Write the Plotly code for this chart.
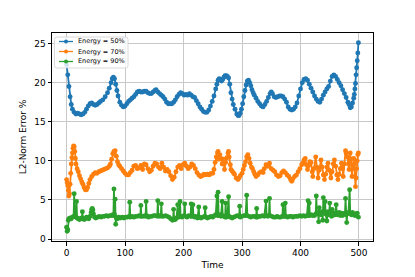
import plotly.graph_objects as go

# ---------------- data ----------------
series_names = ["Energy = 50%", "Energy = 70%", "Energy = 90%"]
series_colors = ["#1f77b4", "#ff7f0e", "#2ca02c"]

t_50 = [0, 2, 4, 6, 8, 10, 13, 16, 19, 22, 25, 28, 31, 34, 37, 40, 43, 46, 49, 52, 55, 58, 62, 66, 70, 73, 76, 78, 80, 82, 84, 86, 88, 91, 94, 97,
        100, 103, 106, 109, 112, 115, 118, 121, 124, 127, 130, 133, 136, 139, 142, 145, 148, 151, 153, 156, 159, 162, 165, 168, 171, 174, 177,
        180, 183, 186, 189, 192, 195, 198, 201, 204, 207, 210, 213, 216, 219, 222, 225, 228, 231, 234, 237, 240, 243, 246, 249, 252, 255, 257,
        259, 261, 263, 265, 267, 269, 271, 273, 275, 277, 279, 281, 283, 285, 288, 291, 293, 295, 297, 299, 301, 303, 305, 307, 309, 311, 313,
        315, 317, 319, 321, 324, 327, 330, 333, 336, 339, 342, 345, 348, 350, 352, 355, 358, 361, 364, 367, 370, 373, 376, 379, 382, 385, 388,
        391, 394, 397, 400, 403, 406, 409, 412, 415, 418, 421, 424, 427, 430, 433, 436, 439, 442, 445, 448, 451, 454, 457, 460, 463, 466, 469,
        472, 475, 478, 481, 483, 485, 487, 489, 491, 492, 493, 494, 495, 496, 497, 498, 499]
v_50 = [22.3, 21.0, 19.5, 18.2, 17.2, 16.6, 16.2, 16.0, 16.1, 16.0, 15.9, 16.0, 16.2, 16.6, 17.0, 17.3, 17.4, 17.2, 17.1, 17.2, 17.4, 17.6, 17.8,
        18.2, 18.7, 19.3, 20.0, 20.5, 20.7, 20.5, 19.8, 19.0, 18.3, 17.5, 17.1, 16.9,
        17.0, 17.3, 17.6, 17.8, 18.0, 18.2, 18.5, 18.8, 18.9, 18.8, 18.8, 18.9, 18.9, 18.7, 18.6, 18.6, 18.8, 19.0, 19.1, 18.8, 18.6, 18.4, 18.2,
        17.9, 17.5, 17.3, 17.3, 17.3, 17.5, 17.8, 18.2, 18.5, 18.7, 18.6, 18.4, 18.5, 18.4, 18.6, 18.4, 18.2, 18.1, 17.7, 17.3, 16.9, 16.6, 16.3,
        16.2, 16.2, 16.5, 17.0, 17.6, 18.3, 19.2, 19.8, 20.3, 20.5, 20.4, 20.2, 20.4, 20.7, 20.9, 20.9, 20.8, 20.6, 19.8, 18.7, 17.9, 17.2, 16.6,
        16.0, 15.8, 15.8, 16.1, 16.6, 17.3, 18.2, 19.0, 19.7, 20.2, 20.3, 20.0, 19.6, 19.1, 18.7, 18.4, 18.0, 17.6, 17.3, 17.0, 16.9, 17.2, 17.6,
        18.1, 18.6, 18.8, 18.6, 18.2, 18.1, 18.2, 18.3, 18.3, 18.2, 17.9, 17.5, 16.9, 16.6, 16.5, 16.6, 16.9, 17.4, 18.3, 19.2, 20.0, 20.4, 20.5,
        20.3, 19.8, 19.3, 18.8, 18.3, 17.9, 17.6, 17.5, 17.9, 18.4, 18.8, 19.2, 19.5, 20.2, 20.8, 21.0, 20.8, 20.4, 20.0, 19.6, 19.1, 18.6, 18.1,
        17.5, 17.2, 16.8, 16.9, 17.4, 18.0, 18.5, 19.2, 19.9, 21.0, 21.9, 22.8, 23.8, 25.1]

t_70 = [0, 1, 2, 3, 4, 5, 6, 7, 8, 9, 10, 11, 12, 13, 14, 15, 16, 18, 20, 22, 24, 26, 28, 30, 32, 34, 36, 38, 40, 43, 46, 49, 52, 55, 58, 61,
        64, 67, 70, 73, 75, 77, 79, 81, 83, 85, 87, 89, 91, 94, 97, 100, 103, 106, 109, 112, 115, 118, 121, 124, 127, 130, 133, 136, 139, 142,
        145, 148, 151, 154, 157, 160, 163, 166, 169, 172, 175, 178, 181, 184, 187, 190, 193, 196, 199, 202, 205, 208, 211, 214, 217, 220, 223,
        226, 229, 232, 235, 238, 241, 244, 247, 250, 252, 254, 256, 258, 259, 260, 262, 264, 266, 268, 270, 272, 274, 276, 277, 278, 280, 281,
        283, 285, 287, 290, 293, 295, 297, 300, 302, 304, 306, 308, 310, 312, 314, 316, 318, 320, 322, 324, 327, 330, 333, 336, 338, 341, 344,
        347, 350, 353, 356, 359, 362, 365, 368, 371, 374, 377, 380, 383, 385, 387, 390, 393, 396, 399, 402, 404, 406, 408, 410, 412, 414, 416,
        418, 420, 421, 423, 426, 428, 430, 432, 435, 437, 439, 441, 443, 445, 447, 449, 452, 454, 456, 458, 460, 462, 464, 466, 468, 470, 472,
        473, 475, 477, 478, 480, 482, 483, 484, 485, 486, 488, 489, 491, 492, 493, 494, 495, 496, 497, 498, 499]
v_70 = [7.6, 7.2, 6.8, 6.2, 5.5, 5.8, 7.0, 8.4, 9.6, 10.4, 11.0, 11.6, 11.9, 11.8, 11.2, 10.3, 9.6, 9.0, 8.6, 8.1, 7.7, 7.3, 7.0, 6.6, 6.3, 6.3,
        6.6, 7.1, 7.6, 8.0, 8.3, 8.5, 8.4, 8.6, 8.7, 8.8, 8.9, 9.0, 9.1, 9.3, 9.6, 10.2, 10.9, 11.2, 11.3, 10.6, 9.9, 9.5, 9.3, 9.0, 8.7, 8.4,
        8.2, 8.2, 8.5, 8.8, 9.3, 9.4, 9.0, 9.1, 9.4, 8.9, 9.6, 9.5, 9.0, 8.6, 8.8, 9.3, 9.7, 9.6, 9.2, 9.0, 9.7, 9.2, 8.7, 8.9, 8.6, 8.1, 7.6,
        7.9, 8.6, 9.2, 9.4, 9.0, 9.5, 9.7, 9.3, 9.0, 9.2, 9.6, 9.4, 9.0, 8.5, 8.2, 8.0, 8.1, 8.3, 8.2, 8.3, 8.2, 8.4, 8.4, 8.9, 9.8, 10.5, 11.0,
        11.2, 10.2, 10.8, 10.3, 9.6, 10.2, 8.9, 9.8, 10.4, 11.0, 11.2, 10.5, 9.5, 8.9, 8.7, 8.5, 8.3, 7.8, 7.6, 7.8, 8.1, 8.4, 8.9, 9.4, 9.9,
        10.5, 10.8, 10.3, 9.7, 9.2, 9.0, 8.6, 8.3, 8.0, 8.2, 8.5, 8.6, 8.5, 9.0, 9.5, 9.3, 9.7, 9.0, 8.8, 8.6, 8.2, 8.0, 8.1, 8.5, 8.7, 8.5,
        8.2, 8.0, 7.6, 7.4, 7.7, 8.0, 8.2, 8.6, 9.0, 9.5, 9.7, 10.1, 10.3, 9.5, 8.9, 9.4, 9.9, 9.8, 8.6, 8.0, 9.0, 10.5, 9.2, 7.8, 8.8, 10.1,
        9.2, 8.2, 7.6, 8.3, 9.2, 9.7, 8.8, 7.8, 8.6, 9.6, 10.1, 9.3, 8.2, 7.6, 8.3, 9.0, 9.7, 9.0, 8.0, 9.6, 11.3, 11.0, 10.5, 9.6, 8.9, 10.0,
        11.0, 10.2, 8.0, 9.0, 10.3, 9.6, 8.0, 6.7, 7.8, 9.0, 10.0, 10.8, 11.0]

t_90 = [0, 1, 2, 3, 4, 6, 8, 10, 12, 13, 14, 16, 17, 18, 20, 22, 24, 26, 27, 28, 30, 32, 34, 36, 38, 40, 42, 43, 44, 45, 46, 48, 50, 53, 56,
        59, 62, 65, 68, 71, 74, 77, 79, 80, 81, 82, 83, 84, 85, 87, 89, 92, 95, 98, 101, 104, 107, 108, 109, 112, 115, 118, 121, 124, 126, 127,
        128, 131, 134, 135, 136, 137, 140, 143, 146, 149, 152, 155, 156, 157, 159, 161, 162, 163, 166, 169, 172, 175, 178, 181, 182, 183, 184,
        186, 188, 190, 191, 193, 194, 195, 197, 199, 201, 202, 203, 206, 209, 212, 213, 214, 216, 217, 219, 221, 224, 226, 227, 230, 233, 236,
        237, 238, 241, 244, 247, 250, 253, 255, 257, 258, 259, 260, 262, 264, 266, 267, 269, 271, 272, 273, 275, 277, 278, 280, 283, 286, 289,
        292, 295, 296, 297, 300, 303, 306, 308, 309, 312, 315, 318, 321, 324, 325, 326, 329, 332, 335, 338, 341, 342, 344, 346, 347, 348, 351,
        354, 357, 360, 363, 366, 369, 370, 371, 373, 374, 375, 378, 381, 384, 387, 390, 393, 396, 399, 402, 405, 408, 411, 413, 414, 415, 416,
        418, 421, 424, 426, 427, 428, 430, 431, 432, 433, 435, 437, 438, 439, 440, 442, 443, 445, 447, 449, 450, 451, 453, 454, 455, 457, 459,
        461, 462, 464, 466, 468, 470, 472, 474, 476, 477, 478, 479, 480, 482, 484, 485, 487, 489, 491, 493, 495, 497, 499]
v_90 = [1.5, 1.0, 1.2, 2.4, 2.6, 2.7, 2.6, 2.8, 2.9, 5.8, 2.9, 2.8, 4.8, 2.7, 2.6, 2.5, 2.6, 2.7, 3.5, 2.6, 2.5, 2.6, 2.8, 2.7, 2.6, 2.9, 3.4,
        3.8, 3.9, 3.7, 3.2, 2.8, 2.7, 2.8, 2.9, 2.8, 2.9, 2.9, 3.0, 2.9, 3.0, 3.0, 3.1, 3.0, 6.4, 3.1, 5.1, 1.9, 2.7, 2.6, 2.8, 2.7, 2.8, 2.7,
        2.8, 2.8, 2.9, 4.7, 2.8, 2.9, 2.8, 2.9, 2.9, 3.0, 2.9, 4.3, 2.9, 2.9, 3.0, 2.9, 4.8, 3.0, 2.8, 2.9, 2.9, 3.0, 3.0, 2.9, 4.9, 3.0, 2.9,
        3.0, 4.5, 2.9, 2.9, 3.0, 2.9, 2.8, 2.6, 2.4, 2.5, 3.8, 2.5, 2.5, 2.7, 4.4, 2.8, 2.9, 4.8, 2.9, 2.8, 2.9, 3.0, 4.5, 2.9, 2.8, 3.0, 2.9,
        4.5, 2.9, 4.4, 2.9, 2.8, 2.9, 2.7, 4.1, 2.8, 2.7, 2.8, 2.9, 4.0, 2.8, 2.7, 2.8, 2.9, 2.8, 3.0, 3.1, 5.5, 3.0, 6.0, 3.0, 3.1, 2.9, 4.8,
        3.0, 2.9, 2.8, 4.6, 2.8, 2.9, 5.4, 2.9, 2.8, 2.7, 2.8, 2.9, 3.0, 2.9, 4.2, 2.8, 2.9, 3.0, 3.0, 5.6, 3.0, 2.9, 2.8, 2.9, 2.9, 2.8, 3.9,
        2.8, 2.9, 2.9, 3.0, 2.9, 4.85, 3.0, 2.9, 3.0, 5.2, 3.0, 2.9, 2.8, 2.8, 2.9, 2.8, 2.8, 2.9, 4.4, 2.9, 2.9, 4.6, 2.9, 2.8, 2.9, 2.9, 2.8,
        2.9, 2.9, 2.9, 3.0, 2.9, 3.0, 2.9, 3.0, 4.9, 3.0, 4.6, 3.0, 3.1, 3.0, 3.0, 3.2, 5.5, 3.2, 3.4, 2.2, 4.0, 3.3, 3.1, 3.5, 2.4, 5.3, 3.4,
        4.8, 3.2, 2.3, 3.5, 3.1, 4.6, 3.2, 2.9, 3.8, 3.0, 3.3, 3.1, 4.4, 3.2, 3.1, 3.4, 3.0, 3.3, 3.0, 3.2, 3.3, 5.2, 3.1, 2.1, 3.2, 3.4, 6.3,
        3.3, 3.1, 3.4, 3.1, 3.0, 3.2, 3.3, 2.8]

x_ticks = [0, 100, 200, 300, 400, 500]
y_ticks = [0, 5, 10, 15, 20, 25]
x_title = "Time"
y_title = "L2-Norm Error %"

# ---------------- figure ----------------
FONT = "DejaVu Sans"
fig = go.Figure()
for name, color, tx, vy in zip(series_names, series_colors, [t_50, t_70, t_90], [v_50, v_70, v_90]):
    fig.add_trace(go.Scatter(
        x=tx, y=vy, mode="lines+markers", name=name,
        line=dict(color=color, width=1.8),
        marker=dict(color=color, size=4.9, line=dict(width=0)),
        showlegend=False,
    ))

# the page body adds an 8 px offset; figure is sized to fit the window
OFF = 8
FW, FH = 415 - OFF, 277 - OFF
# plot area in figure pixels (page pixels minus offset)
L, R, T, B = 52 - OFF, 373 - OFF, 33 - OFF, 241 - OFF
W, H = R - L, B - T


def px(xp):
    return (xp - OFF - L) / W


def py(yp):
    return (B - (yp - OFF)) / H


# compact legend (matplotlib style), positioned in page pixels
bx0, bx1, by0, by1 = px(54.5), px(128), py(68), py(37)
rx, ry = 2.5 / W, 2.5 / H
path = (f"M {bx0+rx},{by1} L {bx1-rx},{by1} Q {bx1},{by1} {bx1},{by1-ry} "
        f"L {bx1},{by0+ry} Q {bx1},{by0} {bx1-rx},{by0} L {bx0+rx},{by0} "
        f"Q {bx0},{by0} {bx0},{by0+ry} L {bx0},{by1-ry} Q {bx0},{by1} {bx0+rx},{by1} Z")
shapes = [dict(type="path", xref="paper", yref="paper", path=path,
               fillcolor="rgba(255,255,255,0.8)", line=dict(color="#d0d0d0", width=0.8), layer="above")]
annotations = []
for i, (name, color) in enumerate(zip(series_names, series_colors)):
    yc = py(41.5 + 10 * i)
    shapes.append(dict(type="line", xref="paper", yref="paper", x0=px(59), x1=px(73), y0=yc, y1=yc,
                       line=dict(color=color, width=1.3), layer="above"))
    shapes.append(dict(type="circle", xref="paper", yref="paper",
                       x0=px(66) - 2 / W, x1=px(66) + 2 / W, y0=yc - 2 / H, y1=yc + 2 / H,
                       fillcolor=color, line=dict(width=0), layer="above"))
    annotations.append(dict(text=name, xref="paper", yref="paper", x=px(76), y=yc,
                            xanchor="left", yanchor="middle", showarrow=False,
                            font=dict(family=FONT, size=6.5, color="#000")))

axis_common = dict(
    showline=True, mirror=True, linecolor="#000", linewidth=1,
    ticks="outside", ticklen=3.5, tickwidth=0.8, tickcolor="#000",
    showgrid=True, gridcolor="#c8c8c8", gridwidth=0.8, zeroline=False,
    tickfont=dict(family=FONT, size=9, color="#000"),
)

fig.update_layout(
    width=FW, height=FH,
    margin=dict(l=L, r=FW - R, t=T, b=FH - B, autoexpand=False),
    paper_bgcolor="white", plot_bgcolor="white",
    font=dict(family=FONT, size=9, color="#000"),
    showlegend=False,
    shapes=shapes, annotations=annotations,
    xaxis=dict(range=[-24.95, 523.95], tickvals=x_ticks,
               title=dict(text=x_title, font=dict(family=FONT, size=9), standoff=4), **axis_common),
    yaxis=dict(range=[-0.25, 26.35], tickvals=y_ticks,
               title=dict(text=y_title, font=dict(family=FONT, size=9), standoff=6), **axis_common),
)

fig.write_html("out.html")
